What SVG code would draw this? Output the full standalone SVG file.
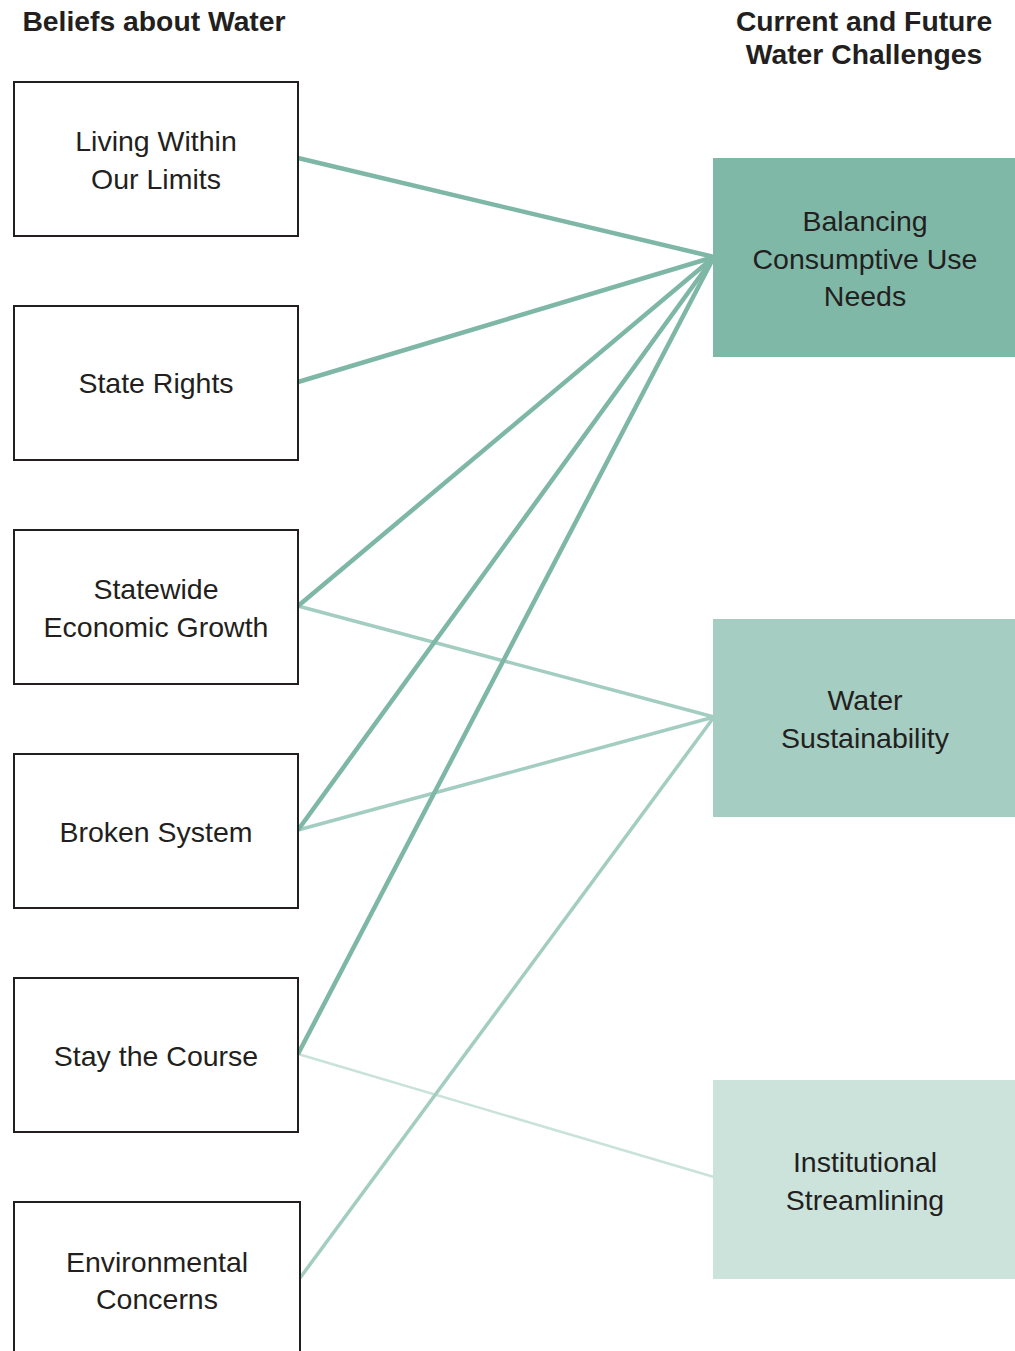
<svg xmlns="http://www.w3.org/2000/svg" width="1015" height="1351" viewBox="0 0 1015 1351">
  <style>
    .hdr { font-family: "Liberation Sans", Arial, sans-serif; font-weight: bold; font-size: 28.3px; fill: #231f20; text-anchor: middle; }
    .lbl { font-family: "Liberation Sans", Arial, sans-serif; font-size: 28.5px; fill: #231f20; text-anchor: middle; }
    .belief { fill: #ffffff; stroke: #231f20; stroke-width: 2; }
    .c1 { fill: #80b8a8; }
    .c2 { fill: #a5cdc1; }
    .c3 { fill: #cce3dc; }
    .l1 { stroke: #7fb7a7; stroke-width: 4.5; fill: none; }
    .l2 { stroke: #a4cdc1; stroke-width: 3.5; fill: none; }
    .l3 { stroke: #c9e2da; stroke-width: 2.5; fill: none; }
  </style>
  <rect width="1015" height="1351" fill="#ffffff"/>

  <!-- column headings -->
  <g id="headings">
    <text class="hdr" x="154" y="31">Beliefs about Water</text>
    <text class="hdr" x="864" y="31">Current and Future</text>
    <text class="hdr" x="864" y="64">Water Challenges</text>
  </g>

  <!-- links from beliefs to challenges -->
  <g id="connectors">
    <line class="l3" x1="298" y1="1054" x2="714" y2="1177"/>
    <line class="l2" x1="298" y1="606" x2="714" y2="717"/>
    <line class="l2" x1="298" y1="830" x2="714" y2="717"/>
    <line class="l2" x1="300" y1="1278" x2="714" y2="717"/>
    <line class="l1" x1="298" y1="158" x2="714" y2="257"/>
    <line class="l1" x1="298" y1="382" x2="714" y2="257"/>
    <line class="l1" x1="298" y1="606" x2="714" y2="257"/>
    <line class="l1" x1="298" y1="830" x2="714" y2="257"/>
    <line class="l1" x1="298" y1="1054" x2="714" y2="257"/>
  </g>

  <!-- beliefs -->
  <g id="living-within-our-limits">
    <rect class="belief" x="14" y="82" width="284" height="154"/>
    <text class="lbl" x="156" y="151">Living Within</text>
    <text class="lbl" x="156" y="189">Our Limits</text>
  </g>
  <g id="state-rights">
    <rect class="belief" x="14" y="306" width="284" height="154"/>
    <text class="lbl" x="156" y="393">State Rights</text>
  </g>
  <g id="statewide-economic-growth">
    <rect class="belief" x="14" y="530" width="284" height="154"/>
    <text class="lbl" x="156" y="599">Statewide</text>
    <text class="lbl" x="156" y="637">Economic Growth</text>
  </g>
  <g id="broken-system">
    <rect class="belief" x="14" y="754" width="284" height="154"/>
    <text class="lbl" x="156" y="842">Broken System</text>
  </g>
  <g id="stay-the-course">
    <rect class="belief" x="14" y="978" width="284" height="154"/>
    <text class="lbl" x="156" y="1066">Stay the Course</text>
  </g>
  <g id="environmental-concerns">
    <rect class="belief" x="14" y="1202" width="286" height="160"/>
    <text class="lbl" x="157" y="1272">Environmental</text>
    <text class="lbl" x="157" y="1309">Concerns</text>
  </g>

  <!-- challenges -->
  <g id="balancing-consumptive-use-needs">
    <rect class="c1" x="713" y="158" width="302" height="199"/>
    <text class="lbl" x="865" y="231">Balancing</text>
    <text class="lbl" x="865" y="269">Consumptive Use</text>
    <text class="lbl" x="865" y="306">Needs</text>
  </g>
  <g id="water-sustainability">
    <rect class="c2" x="713" y="619" width="302" height="198"/>
    <text class="lbl" x="865" y="710">Water</text>
    <text class="lbl" x="865" y="748">Sustainability</text>
  </g>
  <g id="institutional-streamlining">
    <rect class="c3" x="713" y="1080" width="302" height="199"/>
    <text class="lbl" x="865" y="1172">Institutional</text>
    <text class="lbl" x="865" y="1210">Streamlining</text>
  </g>
</svg>
